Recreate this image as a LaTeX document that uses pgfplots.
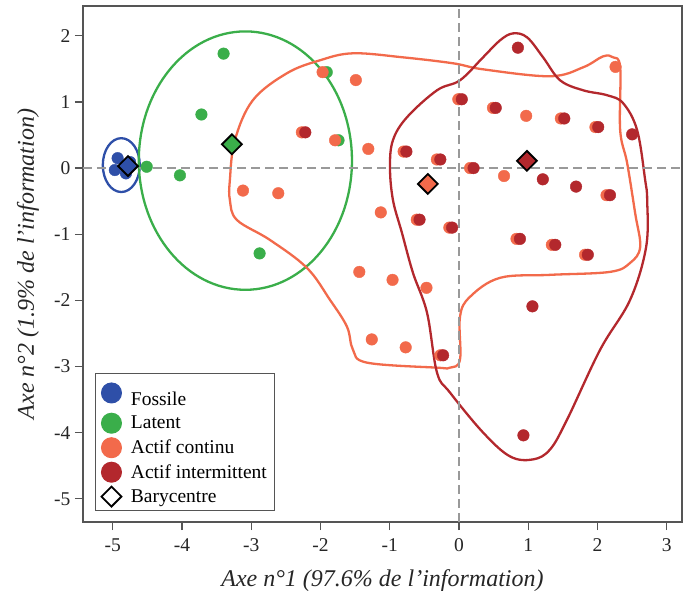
\documentclass[border=0pt]{standalone}
\usepackage{fontspec}
\setmainfont{Liberation Serif}
\usepackage{pgfplots}
\pgfplotsset{compat=1.18}
\definecolor{cfos}{HTML}{2E4FA8}
\definecolor{clat}{HTML}{3AAE4A}
\definecolor{ccon}{HTML}{F26A4B}
\definecolor{cint}{HTML}{B3282D}
\definecolor{axgray}{HTML}{555555}
\begin{document}
\begin{tikzpicture}
\begin{axis}[
 width=599pt, height=516pt, scale only axis,
 xmin=-5.43, xmax=3.22, ymin=-5.35, ymax=2.45,
 xtick={-5,...,3}, ytick={-5,...,2},
 tick align=outside, xtick pos=bottom, ytick pos=left,
 major tick length=8pt,
 axis line style={axgray, line width=1.2pt},
 every tick/.style={axgray, line width=1.2pt},
 tick label style={font=\fontsize{19.5}{20}\selectfont, text=black!85},
 xticklabel style={yshift=-5pt},
 yticklabel style={xshift=-1pt},
 /pgf/number format/assume math mode=true,
 xlabel={Axe n°1 (97.6\% de l’information)},
 ylabel={Axe n°2 (1.9\% de l’information)},
 label style={font=\fontsize{24}{28}\selectfont\itshape, text=black!85},
 xlabel style={at={(axis description cs:0.5,-0.1145)}, anchor=center},
 ylabel style={at={(axis description cs:-0.0918,0.5)}, anchor=center},
 legend style={at={(0.02,0.0213)}, anchor=south west, draw=axgray, line width=1pt,
   font=\fontsize{19.5}{22}\selectfont, row sep=4.5pt, inner xsep=6pt, inner ysep=4pt},
 legend cell align=left,
 legend image code/.code={\path (-3pt,0pt) (17pt,0pt); \draw[#1, mark size=10pt] plot coordinates {(0pt,0pt)};},
]
% confidence ellipses
\draw[cfos, line width=2.3pt] (axis cs:-4.877,0.045) ellipse [x radius=0.267, y radius=0.407];
\draw[clat, line width=2.3pt] (axis cs:-3.085,0.113) ellipse [x radius=1.539, y radius=1.953];
% hulls
\addplot[forget plot, ccon, line width=2.3pt, smooth cycle, tension=0.6] coordinates {
(-3.309,-0.483) (-3.309,-0.181) (-3.237,0.422) (-2.977,1.026) (-2.486,1.433) (-2.009,1.629)
(-1.532,1.735) (-0.809,1.674) (-0.087,1.584) (0.347,1.493) (1.315,1.388) (1.792,1.523)
(2.081,1.689) (2.225,1.674) (2.327,1.523) (2.327,0.573) (2.428,0.075) (2.543,-0.679)
(2.616,-1.192) (2.471,-1.433) (2.182,-1.569) (1.315,-1.614) (0.592,-1.659) (0.159,-1.946)
(0.014,-2.247) (0.014,-2.896) (-0.130,-3.017) (-0.318,-3.017) (-1.329,-2.941) (-1.532,-2.745)
(-1.618,-2.398) (-1.864,-1.991) (-2.197,-1.508) (-2.731,-1.086) (-3.208,-0.784)};
\addplot[forget plot, cint, line width=2.3pt, smooth cycle, tension=0.6] coordinates {
(0.780,2.036) (0.983,1.976) (1.214,1.674) (1.460,1.327) (1.792,1.176) (2.139,1.101)
(2.370,0.980) (2.572,0.573) (2.688,-0.181) (2.717,-0.483) (2.702,-1.192) (2.471,-1.991)
(2.038,-2.745) (1.561,-3.801) (1.315,-4.253) (1.069,-4.404) (0.737,-4.359) (0.347,-3.997)
(-0.130,-3.394) (-0.318,-3.092) (-0.462,-2.187) (-0.665,-1.584) (-0.824,-0.980) (-0.954,-0.483)
(-0.997,0.015) (-0.954,0.422) (-0.751,0.769) (-0.318,1.176) (0.014,1.327) (0.347,1.674) (0.592,1.931)};
% reference lines
\addplot[forget plot, color=gray!80, line width=1.4pt, dash pattern=on 9pt off 5pt] coordinates {(-5.43,0) (3.22,0)};
\addplot[forget plot, color=gray!80, line width=1.4pt, dash pattern=on 9pt off 5pt] coordinates {(0,-5.35) (0,2.45)};
% points
\addplot[only marks, mark=*, mark size=5.8pt, color=cfos, mark options={draw=cfos, fill=cfos}] coordinates {
(-4.93,0.15) (-4.97,-0.03) (-4.81,-0.08) (-4.75,0.09)};
\addlegendentry{\rule{0pt}{26pt}Fossile}
\addplot[only marks, mark=*, mark size=5.8pt, color=clat, mark options={draw=clat, fill=clat}] coordinates {
(-3.40,1.73) (-3.72,0.81) (-4.51,0.02) (-4.03,-0.11) (-2.88,-1.29) (-1.91,1.45) (-1.74,0.42)};
\addlegendentry{Latent}
\addplot[only marks, mark=*, mark size=5.8pt, color=ccon, mark options={draw=ccon, fill=ccon}] coordinates {
(-1.97,1.45) (-1.49,1.33) (-2.27,0.54) (-1.79,0.42) (-1.31,0.29) (-0.80,0.25) (-0.32,0.13)
(-3.12,-0.34) (-2.61,-0.38) (-1.13,-0.67) (-0.61,-0.78) (-0.14,-0.90) (-1.44,-1.57) (-0.96,-1.69)
(-0.47,-1.81) (-1.26,-2.59) (-0.77,-2.71) (-0.27,-2.83) (2.26,1.53) (-0.01,1.04) (0.49,0.91)
(0.97,0.79) (1.47,0.75) (1.97,0.62) (0.16,0.0) (0.65,-0.12) (2.13,-0.41) (0.83,-1.07)
(1.34,-1.16) (1.82,-1.31)};
\addlegendentry{Actif continu}
\addplot[only marks, mark=*, mark size=5.8pt, color=cint, mark options={draw=cint, fill=cint}] coordinates {
(-2.22,0.54) (-0.76,0.25) (-0.27,0.13) (-0.57,-0.78) (-0.10,-0.90) (-0.23,-2.83) (0.85,1.82)
(0.04,1.04) (0.53,0.91) (1.52,0.75) (2.01,0.62) (2.50,0.51) (0.21,0.0) (1.21,-0.17)
(1.69,-0.28) (2.18,-0.41) (0.88,-1.07) (1.39,-1.16) (1.86,-1.31) (1.06,-2.09) (0.93,-4.04)};
\addlegendentry{Actif intermittent}
% barycentres
\addplot[forget plot, only marks, mark=square*, mark size=7pt, mark options={rotate=45, fill=cfos, draw=black, line width=1.8pt}] coordinates {(-4.78,0.03)};
\addplot[forget plot, only marks, mark=square*, mark size=7pt, mark options={rotate=45, fill=clat, draw=black, line width=1.8pt}] coordinates {(-3.28,0.36)};
\addplot[forget plot, only marks, mark=square*, mark size=7pt, mark options={rotate=45, fill=ccon, draw=black, line width=1.8pt}] coordinates {(-0.45,-0.24)};
\addplot[forget plot, only marks, mark=square*, mark size=7pt, mark options={rotate=45, fill=cint, draw=black, line width=1.8pt}] coordinates {(0.98,0.11)};
\addlegendimage{only marks, mark=square*, mark options={rotate=45, fill=white, draw=black, line width=1.8pt, mark size=7pt}}
\addlegendentry{Barycentre}
\end{axis}
\pgfresetboundingbox
\path ([xshift=-83pt,yshift=-69pt]current axis.south west) rectangle ([xshift=3pt,yshift=6pt]current axis.north east);
\end{tikzpicture}
\end{document}
